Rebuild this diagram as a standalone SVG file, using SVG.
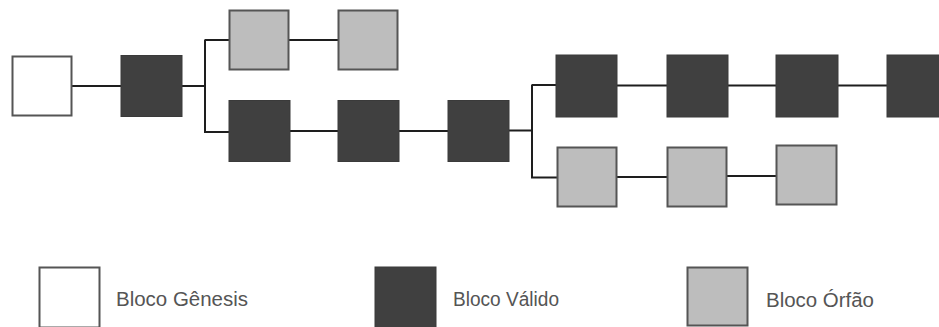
<svg xmlns="http://www.w3.org/2000/svg" width="939" height="327" viewBox="0 0 939 327">
  <style>
    .genesis { fill: #ffffff; stroke: #555555; stroke-width: 2; }
    .valid { fill: #404040; stroke: #3a3a3a; stroke-width: 1; }
    .orphan { fill: #bdbdbd; stroke: #555555; stroke-width: 2; }
    .link { fill: none; stroke: #1e1e1e; stroke-width: 2; }
    .label { font-family: "Liberation Sans", Arial, sans-serif; font-size: 19.5px; fill: #555555; }
  </style>
  <rect width="939" height="327" fill="#ffffff"/>

  <!-- chain connectors -->
  <g id="connectors">
    <path class="link" d="M72 86 H121"/>
    <path class="link" d="M182 86 H205 M205 39.5 V133 M205 40 H229 M205 132 H229"/>
    <path class="link" d="M289 40 H338"/>
    <path class="link" d="M290 131 H338"/>
    <path class="link" d="M399 131 H448"/>
    <path class="link" d="M509 130.5 H532 M532 84.5 V178.5 M532 85 H556 M532 177.5 H557"/>
    <path class="link" d="M617 85.5 H667"/>
    <path class="link" d="M728 85.5 H776"/>
    <path class="link" d="M838 85.5 H887"/>
    <path class="link" d="M617 177 H667"/>
    <path class="link" d="M727 176 H776"/>
  </g>

  <!-- blocks -->
  <g id="genesis"><rect class="genesis" x="12.5" y="56.5" width="59" height="59"/></g>
  <g id="valid-1"><rect class="valid" x="121" y="55.5" width="61" height="61"/></g>
  <g id="orphan-1"><rect class="orphan" x="229.5" y="10.5" width="59" height="59"/></g>
  <g id="orphan-2"><rect class="orphan" x="338.5" y="10.5" width="59" height="59"/></g>
  <g id="valid-2"><rect class="valid" x="229" y="100.5" width="61" height="61"/></g>
  <g id="valid-3"><rect class="valid" x="338" y="100.5" width="61" height="61"/></g>
  <g id="valid-4"><rect class="valid" x="448" y="100.5" width="61" height="61"/></g>
  <g id="valid-5"><rect class="valid" x="556" y="55" width="61" height="62"/></g>
  <g id="valid-6"><rect class="valid" x="667" y="55" width="61" height="62"/></g>
  <g id="valid-7"><rect class="valid" x="776" y="55" width="62" height="62"/></g>
  <g id="valid-8"><rect class="valid" x="887" y="55" width="61" height="62"/></g>
  <g id="orphan-3"><rect class="orphan" x="557.5" y="147.5" width="59" height="59"/></g>
  <g id="orphan-4"><rect class="orphan" x="667.5" y="147.5" width="59" height="59"/></g>
  <g id="orphan-5"><rect class="orphan" x="776.5" y="145.5" width="60" height="59"/></g>

  <!-- legend -->
  <g id="legend-genesis">
    <rect class="genesis" x="39.5" y="267.5" width="60" height="60"/>
    <text class="label" x="116" y="306" textLength="132" lengthAdjust="spacingAndGlyphs">Bloco Gênesis</text>
  </g>
  <g id="legend-valid">
    <rect class="valid" x="375" y="267" width="61" height="61"/>
    <text class="label" x="453" y="306" textLength="106" lengthAdjust="spacingAndGlyphs">Bloco Válido</text>
  </g>
  <g id="legend-orphan">
    <rect class="orphan" x="687.5" y="267.5" width="60" height="58"/>
    <text class="label" x="766" y="306.5" textLength="108" lengthAdjust="spacingAndGlyphs">Bloco Órfão</text>
  </g>
</svg>
